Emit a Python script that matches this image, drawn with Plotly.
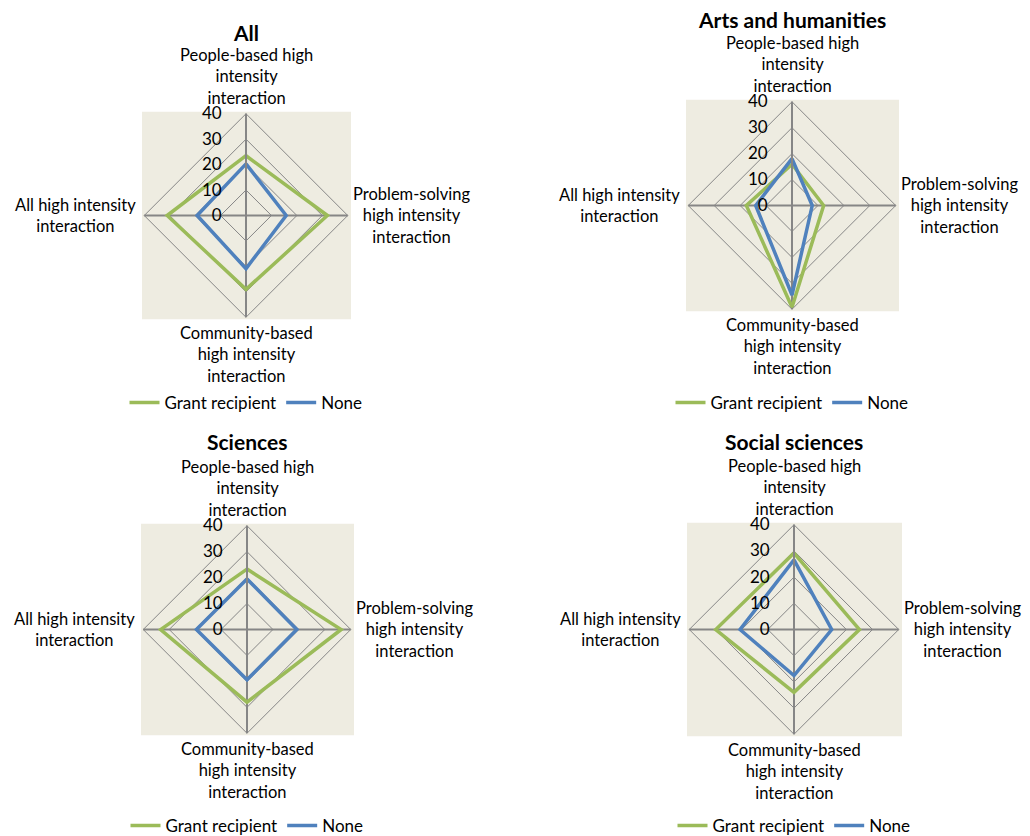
import plotly.graph_objects as go

categories = [
    "People-based high<br>intensity<br>interaction",
    "Problem-solving<br>high intensity<br>interaction",
    "Community-based<br>high intensity<br>interaction",
    "All high intensity<br>interaction",
]
panel_titles = ["All", "Arts and humanities", "Sciences", "Social sciences"]
series_names = ["Grant recipient", "None"]

grant_all = [23.5, 32.0, 29.0, 31.0]
none_all = [20.3, 15.8, 20.9, 19.2]
grant_arts = [15.9, 12.2, 39.2, 17.6]
none_arts = [18.1, 7.8, 34.5, 14.0]
grant_sci = [23.3, 36.3, 28.0, 33.3]
none_sci = [19.5, 19.2, 19.4, 19.5]
grant_soc = [29.2, 25.0, 24.0, 29.9]
none_soc = [26.6, 14.4, 17.6, 20.6]

radial_ticks = [0, 10, 20, 30, 40]
# labels right-aligned (figure space for missing digit) and kept clear of the axis
radial_ticktext = [f"{v:\u2007>2}" + "\u00a0" * 4 for v in radial_ticks]

OFF = 8  # page body margin of the html output
W, H = 1030, 836
GREEN = "#9BBB59"
BLUE = "#4F81BD"
GRID = "#868686"
BG = "#EEECE1"
FONT = "Lato"


def px(x):
    return (x - OFF) / W


def py(y):
    return (H - (y - OFF)) / H


# title, grant, none, centre (screen px), radius, legend y, title y
panels = [
    (panel_titles[0], grant_all, none_all, (246, 216), 102, 404, 33),
    (panel_titles[1], grant_arts, none_arts, (792, 206), 104, 404, 20),
    (panel_titles[2], grant_sci, none_sci, (247, 631), 104, 828, 443),
    (panel_titles[3], grant_soc, none_soc, (794, 631), 105, 828, 443),
]

fig = go.Figure()
layout = {}
for i, (title, g, n, (cx, cy), r, leg_y, title_y) in enumerate(panels):
    pid = "polar" if i == 0 else f"polar{i+1}"
    lid = "legend" if i == 0 else f"legend{i+1}"
    for name, vals, col in ((series_names[0], g, GREEN), (series_names[1], n, BLUE)):
        fig.add_trace(go.Scatterpolar(
            r=vals + vals[:1], theta=categories + categories[:1],
            mode="lines", name=name, subplot=pid, legend=lid,
            line=dict(color=col, width=3.5),
        ))
    layout[pid] = dict(
        domain=dict(x=[px(cx - r), px(cx + r)], y=[py(cy + r), py(cy - r)]),
        gridshape="linear",
        bgcolor="rgba(0,0,0,0)",
        angularaxis=dict(rotation=90, direction="clockwise", categoryorder="array",
                         categoryarray=categories, showticklabels=False,
                         showline=True, linecolor=GRID, linewidth=1,
                         gridcolor=GRID, gridwidth=2, ticks=""),
        radialaxis=dict(range=[0, 40], tickvals=radial_ticks, ticktext=radial_ticktext,
                        angle=90, tickangle=90, side="counterclockwise",
                        showline=True, linecolor=GRID, linewidth=2,
                        gridcolor=GRID, gridwidth=1, ticks="",
                        tickfont=dict(family=FONT, size=17, color="#000")),
    )
    layout[lid] = dict(orientation="h", x=px(cx), xanchor="center",
                       y=py(leg_y), yanchor="middle",
                       font=dict(family=FONT, size=17, color="#000"),
                       bgcolor="rgba(0,0,0,0)", itemwidth=30)
    fig.add_shape(type="rect", xref="paper", yref="paper", layer="below",
                  x0=px(cx - r - 2), x1=px(cx + r + 3),
                  y0=py(cy + r + 2), y1=py(cy - r - 2),
                  fillcolor=BG, line=dict(width=0))
    fig.add_annotation(text=f"<b>{title}</b>", xref="paper", yref="paper",
                       x=px(cx), y=py(title_y), showarrow=False,
                       xanchor="center", yanchor="middle",
                       font=dict(family=FONT, size=21, color="#000"))
    # angular axis labels (centred multi-line text like the original)
    lab_font = dict(family=FONT, size=16.5, color="#000")
    spots = [
        (px(cx), py(cy - r - 4), "center", "bottom"),
        (px(cx + r + 3), py(cy), "left", "middle"),
        (px(cx), py(cy + r + 4), "center", "top"),
        (px(cx - r - 6), py(cy), "right", "middle"),
    ]
    for lab, (ax_, ay_, xa, ya) in zip(categories, spots):
        fig.add_annotation(text=lab, xref="paper", yref="paper", x=ax_, y=ay_,
                           showarrow=False, xanchor=xa, yanchor=ya, align="center",
                           font=lab_font)

fig.update_layout(width=W, height=H, margin=dict(l=0, r=0, t=0, b=0),
                  paper_bgcolor="white", plot_bgcolor="white", showlegend=True,
                  **layout)
fig.write_html("out.html")
